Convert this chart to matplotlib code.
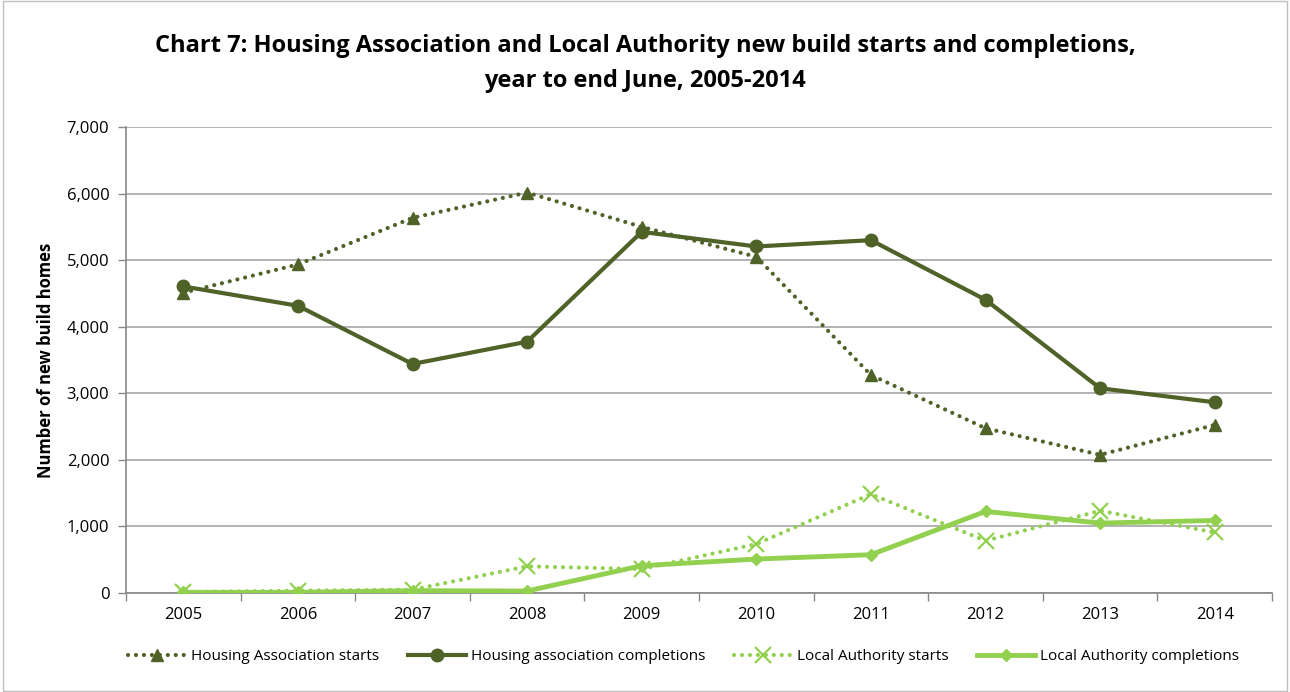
import matplotlib
matplotlib.use("Agg")
import matplotlib.pyplot as plt
from matplotlib.patches import Rectangle

years = [2005, 2006, 2007, 2008, 2009, 2010, 2011, 2012, 2013, 2014]
ha_starts = [4510, 4935, 5635, 6015, 5500, 5050, 3275, 2475, 2075, 2525]
ha_completions = [4605, 4315, 3440, 3775, 5425, 5205, 5300, 4405, 3075, 2865]
la_starts = [15, 35, 50, 400, 360, 735, 1485, 785, 1235, 910]
la_completions = [10, 10, 35, 30, 410, 510, 575, 1225, 1050, 1090]
yticks = [0, 1000, 2000, 3000, 4000, 5000, 6000, 7000]

DARK = "#4F6228"
LIGHT = "#92D050"
FONT = ["Open Sans", "DejaVu Sans"]
plt.rcParams["font.family"] = FONT

fig = plt.figure(figsize=(12.9, 6.92), dpi=100)
ax = fig.add_axes([126/1290, 1-593/692, (1272-126)/1290, (593-127)/692])

x = list(range(len(years)))
dot = (0, (0.01, 1.9))
ax.plot(x, ha_starts, color=DARK, lw=3, linestyle=dot, dash_capstyle="round",
        marker="^", ms=9, label="Housing Association starts", zorder=3)
ax.plot(x, ha_completions, color=DARK, lw=3, marker="o", ms=9,
        label="Housing association completions", zorder=4)
ax.plot(x, la_starts, color=LIGHT, lw=3, linestyle=dot, dash_capstyle="round",
        marker="x", ms=12, mew=1.6, label="Local Authority starts", zorder=3)
ax.plot(x, la_completions, color=LIGHT, lw=3.5, marker="D", ms=6,
        label="Local Authority completions", zorder=4)

ax.set_xlim(-0.5, len(years)-0.5)
ax.set_ylim(0, 7000)
ax.set_yticks(yticks)
ax.set_yticklabels([f"{v:,}" for v in yticks], fontsize=12)
ax.set_xticks(x)
ax.set_xticklabels([str(y) for y in years], fontsize=12)
ax.set_xticks([i - 0.5 for i in range(len(years)+1)], minor=True)
ax.tick_params(axis="x", which="major", length=0, pad=10)
ax.tick_params(axis="x", which="minor", length=6, color="#888888", width=1)
ax.tick_params(axis="y", length=6, color="#888888", width=1, pad=6)
ax.grid(axis="y", color="#a6a6a6", lw=1.2)
ax.set_axisbelow(True)
for s in ["top", "right"]:
    ax.spines[s].set_visible(False)
for s in ["left", "bottom"]:
    ax.spines[s].set_color("#888888")
    ax.spines[s].set_linewidth(1.2)

ax.set_ylabel("Number of new build homes", fontsize=12, fontweight="bold", labelpad=8)

fig.suptitle("Chart 7: Housing Association and Local Authority new build starts and completions,\nyear to end June, 2005-2014",
             x=0.5, y=1-34/692, va="top", fontsize=17, fontweight="bold", linespacing=1.6)

leg = fig.legend(loc="center", bbox_to_anchor=(0.53, 1-657/692), ncol=4, frameon=False,
                 fontsize=11, handlelength=3.8, columnspacing=1.9, handletextpad=0.3)

fig.patches.append(Rectangle((0.002, 0.002), 0.996, 0.996, transform=fig.transFigure,
                             fill=False, edgecolor="#bfbfbf", lw=1))

fig.savefig("out.png", dpi=100)
